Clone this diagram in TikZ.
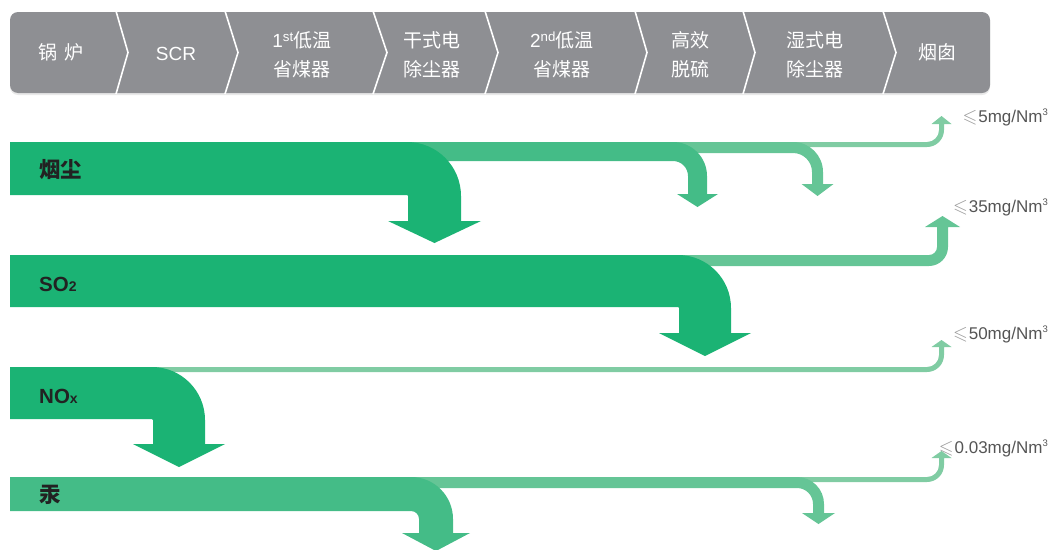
\documentclass[tikz,border=0pt]{standalone}
\usepackage{amssymb}
\usepackage{fontspec}
\setmainfont{Liberation Sans}
\newfontfamily\cjk{Noto Sans CJK SC}
\definecolor{cA}{HTML}{1BB374}
\definecolor{cB}{HTML}{44BC87}
\definecolor{cC}{HTML}{65C596}
\definecolor{cD}{HTML}{80CCA3}
\definecolor{hdr}{HTML}{8E8F93}
\definecolor{hdrshadow}{HTML}{E9E9E9}
\definecolor{lbl}{HTML}{555555}
\definecolor{leqc}{HTML}{9A9A9A}
\definecolor{txt}{HTML}{222222}
% color, x0, ytop, width, xshaft-left, inner radius, y head base, head overhang, y tip
\newcommand{\bandDown}[9]{%
 \fill[#1] (#2,#3) -- ({#5-#6},#3)
  .. controls ({#5-#6+0.5523*(#6+#4)},#3) and ({#5+#4},{#3+(#6+#4)*(1-0.5523)}) .. ({#5+#4},{#3+#6+#4})
  -- ({#5+#4},#7) -- ({#5+#4+#8},#7) -- ({#5+#4/2},#9) -- ({#5-#8},#7) -- (#5,#7)
  -- (#5,{#3+#4+#6})
  .. controls (#5,{#3+#4+#6*(1-0.5523)}) and ({#5-#6*(1-0.5523)},{#3+#4}) .. ({#5-#6},{#3+#4})
  -- (#2,{#3+#4}) -- cycle;}
\newcommand{\bandUp}[9]{%
 \fill[#1] (#2,#3) -- ({#5-#6},#3)
  .. controls ({#5-#6*(1-0.5523)},#3) and (#5,{#3-#6*(1-0.5523)}) .. (#5,{#3-#6})
  -- (#5,#7) -- ({#5-#8},#7) -- ({#5+#4/2},#9) -- ({#5+#4+#8},#7) -- ({#5+#4},#7)
  -- ({#5+#4},{#3-#6})
  .. controls ({#5+#4},{#3-#6+0.5523*(#6+#4)}) and ({#5-#6+0.5523*(#6+#4)},{#3+#4}) .. ({#5-#6},{#3+#4})
  -- (#2,{#3+#4}) -- cycle;}
\newcommand{\limsym}{{\fontsize{19}{19}\selectfont\textcolor{leqc}{$\leqslant$}}\hspace{1pt}}
\newcommand{\cubedsup}{\raisebox{7pt}{\fontsize{9.5}{10}\selectfont 3}}
\tikzset{
  hd/.style={text=white, inner sep=0, font=\fontsize{19}{22}\selectfont},
  divider/.style={white, line width=1.6pt},
  bandlbl/.style={anchor=base west, inner sep=0, text=txt, font=\fontsize{20.5}{24}\selectfont\bfseries},
  cjklbl/.style={anchor=west, inner sep=0, text=txt, font=\fontsize{21.5}{24}\selectfont\cjk\bfseries},
  limit/.style={anchor=base east, inner sep=0, text=lbl, font=\fontsize{17}{18}\selectfont}
}
\begin{document}
\begin{tikzpicture}[x=1pt,y=-1pt]
\useasboundingbox (0,0) rectangle (1049,549);
% header bar
\fill[hdrshadow, rounded corners=8pt] (10,14.5) rectangle (990,95);
\fill[hdr, rounded corners=8pt] (10,12) rectangle (990,93);
\foreach \a/\b in {116/128,225/238,373/387,485/498,635/647,743/755,883/896}
  \draw[divider] (\a,11) -- (\b,52.5) -- (\a,94);
\node[hd] (h1) at (61,52) {\cjk 锅\hspace{0.35em}炉};
\node[hd] (h2) at (176,54) {SCR};
\node[hd] (h3a) at (302,40.5) {1\textsuperscript{st}{\cjk 低温}};
\node[hd] (h3b) at (302,69) {\cjk 省煤器};
\node[hd] (h4a) at (432,40.5) {\cjk 干式电};
\node[hd] (h4b) at (432,69) {\cjk 除尘器};
\node[hd] (h5a) at (562,40.5) {2\textsuperscript{nd}{\cjk 低温}};
\node[hd] (h5b) at (562,69) {\cjk 省煤器};
\node[hd] (h6a) at (690,40.5) {\cjk 高效};
\node[hd] (h6b) at (690,69) {\cjk 脱硫};
\node[hd] (h7a) at (815,40.5) {\cjk 湿式电};
\node[hd] (h7b) at (815,69) {\cjk 除尘器};
\node[hd] (h8) at (937,52) {\cjk 烟囱};
% row 1: dust
\bandUp{cD}{10}{142}{5}{939}{12}{124}{7.5}{116}
\bandDown{cC}{10}{142}{11}{812}{19}{184}{10.5}{196}
\bandDown{cB}{10}{142}{19}{688}{15}{194}{11}{207}
\bandDown{cA}{10}{142}{53}{408}{1}{221}{20}{243}
\node[cjklbl] (r1) at (39,169) {烟尘};
% row 2: SO2
\bandUp{cC}{10}{255}{11}{937}{8}{227}{12}{216}
\bandDown{cA}{10}{255}{52}{679}{1}{333}{20}{356}
\node[bandlbl] (r2) at (39,291) {SO{\fontsize{14}{14}\selectfont 2}};
% row 3: NOx
\bandUp{cD}{10}{367}{5}{939}{12}{347}{7.5}{340}
\bandDown{cA}{10}{367}{52}{153}{1}{444}{20}{467}
\node[bandlbl] (r3) at (39,403) {NO{\fontsize{14}{14}\selectfont x}};
% row 4: mercury
\bandUp{cD}{10}{477}{5}{939}{12}{458}{7.5}{451}
\bandDown{cC}{10}{477}{11}{813}{16}{513}{11}{524}
\bandDown{cB}{10}{477}{34}{419}{8}{533}{17}{551}
\node[cjklbl] (r4) at (39,495) {汞};
% limits
\node[limit] (l1) at (1048,122) {\limsym 5mg/Nm\cubedsup};
\node[limit] (l2) at (1048,212) {\limsym 35mg/Nm\cubedsup};
\node[limit] (l3) at (1048,339) {\limsym 50mg/Nm\cubedsup};
\node[limit] (l4) at (1048,453) {\limsym 0.03mg/Nm\cubedsup};
\end{tikzpicture}
\end{document}
